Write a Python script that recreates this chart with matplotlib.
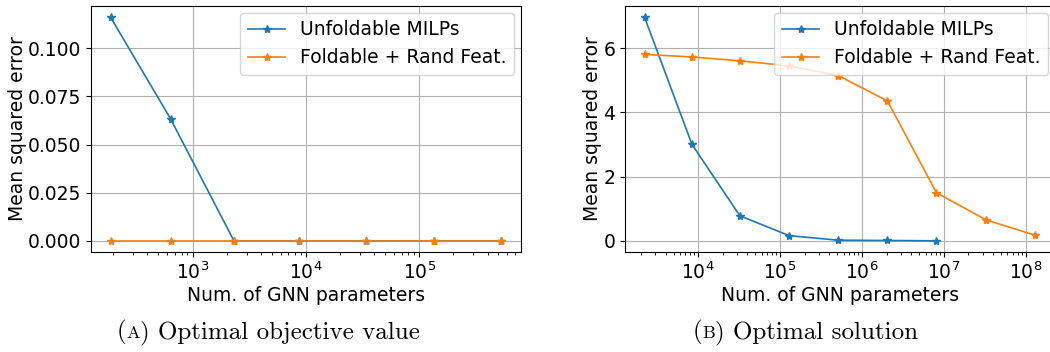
import numpy as np
import matplotlib
matplotlib.use("Agg")
import matplotlib.pyplot as plt
from matplotlib.ticker import MultipleLocator, FormatStrFormatter
from matplotlib.offsetbox import TextArea, HPacker, AnchoredOffsetbox

# Panel A: optimal objective value
params_a = [189, 640, 2318, 8750, 33900, 134000, 531000]
unfold_a = [0.1161, 0.0633, 0.0, 0.0, 0.0, 0.0, 0.0]
fold_a = [0.0, 0.0, 0.0, 0.0, 0.0, 0.0, 0.0]

# Panel B: optimal solution
params_b_unfold = [2213, 8380, 32300, 129700, 515000, 2.05e6, 8.13e6]
unfold_b = [6.97, 3.01, 0.78, 0.16, 0.02, 0.01, 0.0]
params_b_fold = [2213, 8380, 32300, 129700, 515000, 2.05e6, 8.13e6, 3.3e7, 1.32e8]
fold_b = [5.81, 5.73, 5.61, 5.45, 5.15, 4.36, 1.50, 0.65, 0.17]

labels = ["Unfoldable MILPs", "Foldable + Rand Feat."]
xlabel = "Num. of GNN parameters"
ylabel = "Mean squared error"
captions = [("A", "Optimal objective value"), ("B", "Optimal solution")]

FS = 13.5
plt.rcParams["font.family"] = ["DejaVu Sans"]
plt.rcParams["font.size"] = FS

fig = plt.figure(figsize=(10.5, 3.52), dpi=100)
ax1 = fig.add_axes([91/1050, 100/352, 430/1050, 246/352])
ax2 = fig.add_axes([625/1050, 100/352, 430/1050, 246/352])

c1, c2 = "#1f77b4", "#ff7f0e"
kw = dict(marker="*", markersize=6, linewidth=1.2)

ax1.plot(params_a, unfold_a, color=c1, label=labels[0], **kw)
ax1.plot(params_a, fold_a, color=c2, label=labels[1], **kw)
ax2.plot(params_b_unfold, unfold_b, color=c1, label=labels[0], **kw)
ax2.plot(params_b_fold, fold_b, color=c2, label=labels[1], **kw)

for ax in (ax1, ax2):
    ax.set_xscale("log")
    ax.grid(True, color="#b0b0b0", linewidth=0.8)
    ax.set_xlabel(xlabel, labelpad=2)
    ax.set_ylabel(ylabel, va="center")
    ax.tick_params(labelsize=FS)
    ax.legend(loc="upper right", fontsize=FS, borderaxespad=0.35)

ax1.yaxis.set_major_locator(MultipleLocator(0.025))
ax1.yaxis.set_major_formatter(FormatStrFormatter("%.3f"))
ax2.yaxis.set_major_locator(MultipleLocator(2))

ax1.yaxis.set_label_coords(-0.170, 0.5)
ax2.yaxis.set_label_coords(-0.075, 0.5)

# captions (serif, small-caps letter)
for (letter, text), xc in zip(captions, [268/1050, 805/1050]):
    parts = [
        TextArea("(", textprops=dict(family="cmr10", size=18)),
        TextArea(letter, textprops=dict(family="cmr10", size=13)),
        TextArea(") " + text, textprops=dict(family="cmr10", size=18)),
    ]
    box = HPacker(children=parts, align="baseline", pad=0, sep=0)
    anc = AnchoredOffsetbox(loc="center", child=box, frameon=False,
                            bbox_to_anchor=(xc, 20/352),
                            bbox_transform=fig.transFigure, borderpad=0, pad=0)
    fig.add_artist(anc)

fig.savefig("out.png", dpi=100)
